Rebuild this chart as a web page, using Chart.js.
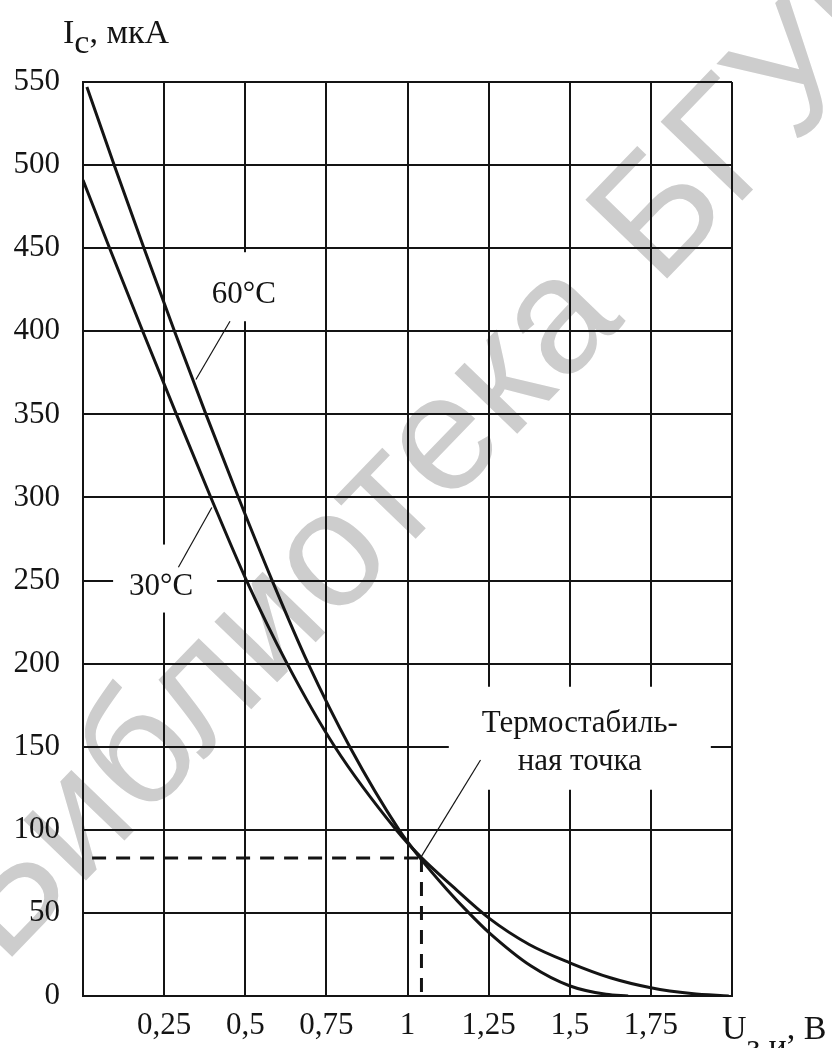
<!DOCTYPE html>
<html>
<head>
<meta charset="utf-8">
<script src="https://cdn.jsdelivr.net/npm/chart.js@4.4.0/dist/chart.umd.min.js"></script>
<style>
  html, body { margin: 0; padding: 0; background: #fff; }
  #wrap { width: 832px; height: 1048px; position: relative; }
</style>
</head>
<body>
<div id="wrap"><canvas id="chart"></canvas></div>
<script>
// U_зи, V  ->  I_c, uA
const u60 = [0.012, 0.096, 0.188, 0.282, 0.379, 0.479, 0.583, 0.694, 0.822, 0.974, 1.039, 1.122, 1.189, 1.252, 1.381, 1.501, 1.612, 1.68];
const i60 = [547, 500, 450, 400, 350, 300, 250, 200, 150, 100, 83, 64, 50, 38, 18, 6, 1, 0];

const u30 = [0, 0.082, 0.184, 0.288, 0.394, 0.504, 0.629, 0.776, 0.965, 1.039, 1.133, 1.25, 1.375, 1.5, 1.625, 1.75, 1.875, 1.99];
const i30 = [491, 450, 400, 350, 300, 250, 200, 150, 100, 84, 67, 47, 31, 20, 11, 5, 1.5, 0];

// thermostable point and where the dashed guide starts on the left
const stablePoint = [1.043, 83];
const guideStartU = 0.028;

// leader lines from the labels to the curves
const leader60 = [[0.453, 406], [0.348, 371]];
const leader30 = [[0.397, 294], [0.294, 258]];
const leaderStable = [[1.225, 142], [1.043, 84]];

const xTickLabels = ['', '0,25', '0,5', '0,75', '1', '1,25', '1,5', '1,75', ''];
const yTickLabels = ['0', '50', '100', '150', '200', '250', '300', '350', '400', '450', '500', '550'];

const INK = '#141414';
const SERIF = '"Liberation Serif", "Times New Roman", serif';

function toPoints(us, is) {
    return us.map((u, k) => ({ x: u, y: is[k] }));
}

function pairPoints(pairs) {
    return pairs.map(p => ({ x: p[0], y: p[1] }));
}

// labels in white boxes: centre in data units, box size in px
const notes = [
    { u: 0.511, i: 426.8, w: 105, h: 69, dx: -5, lines: ['60°C'], base: 16 },
    { u: 0.253, i: 251.2, w: 104, h: 68, dx: -4, lines: ['30°C'], base: 16 },
    { u: 1.531, i: 155.1, w: 262, h: 103, dx: 0, lines: ['Термостабиль-', 'ная точка'], base: -6 }
];

function drawSubText(ctx, x, y, parts) {
    parts.forEach(p => {
        ctx.fillText(p[0], x, y + p[1]);
        x += ctx.measureText(p[0]).width;
    });
}

const paperPlugin = {
    id: 'paper',
    beforeDraw(chart) {
        const ctx = chart.ctx;
        ctx.save();
        ctx.fillStyle = '#fff';
        ctx.fillRect(0, 0, chart.width, chart.height);
        // library watermark
        ctx.translate(-30, 935);
        ctx.rotate(-46 * Math.PI / 180);
        ctx.font = '165px "Liberation Sans", Arial, sans-serif';
        ctx.fillStyle = '#cdcdcd';
        ctx.textAlign = 'left';
        ctx.textBaseline = 'middle';
        ctx.fillText('Библиотека БГУИР', 0, 0);
        ctx.restore();
    }
};

const notesPlugin = {
    id: 'notes',
    beforeDatasetsDraw(chart) {
        const ctx = chart.ctx;
        const xs = chart.scales.x, ys = chart.scales.y;
        ctx.save();
        notes.forEach(n => {
            const cx = xs.getPixelForValue(n.u);
            const cy = ys.getPixelForValue(n.i);
            ctx.fillStyle = '#fff';
            ctx.fillRect(cx - n.w / 2, cy - n.h / 2, n.w, n.h);
            ctx.fillStyle = INK;
            ctx.font = '31px ' + SERIF;
            ctx.textAlign = 'center';
            ctx.textBaseline = 'alphabetic';
            n.lines.forEach((t, k) => {
                ctx.fillText(t, cx + n.dx, cy + n.base + k * 38);
            });
        });
        ctx.restore();
    },
    afterDraw(chart) {
        const ctx = chart.ctx;
        ctx.save();
        ctx.fillStyle = INK;
        ctx.font = '34px ' + SERIF;
        ctx.textAlign = 'left';
        ctx.textBaseline = 'alphabetic';
        drawSubText(ctx, 63, 43, [['I', 0], ['c', 10], [', мкА', 0]]);
        drawSubText(ctx, 722, 1039, [['U', 0], ['з.и', 18], [', В', 0]]);
        ctx.restore();
    }
};

const curveStyle = {
    borderColor: INK,
    borderWidth: 3,
    pointRadius: 0,
    showLine: true,
    fill: false,
    cubicInterpolationMode: 'monotone'
};

const thinStyle = {
    borderColor: INK,
    borderWidth: 1.2,
    pointRadius: 0,
    showLine: true,
    fill: false
};

const dashStyle = {
    borderColor: INK,
    borderWidth: 3,
    borderDash: [14, 10],
    pointRadius: 0,
    showLine: true,
    fill: false
};

new Chart(document.getElementById('chart'), {
    type: 'scatter',
    data: {
        datasets: [
            Object.assign({ label: '60°C', data: toPoints(u60, i60) }, curveStyle),
            Object.assign({ label: '30°C', data: toPoints(u30, i30) }, curveStyle),
            Object.assign({ label: 'guide-h', data: pairPoints([[guideStartU, stablePoint[1]], stablePoint]) }, dashStyle),
            Object.assign({ label: 'guide-v', data: pairPoints([stablePoint, [stablePoint[0], 0]]) }, dashStyle),
            Object.assign({ label: 'l60', data: pairPoints(leader60) }, thinStyle),
            Object.assign({ label: 'l30', data: pairPoints(leader30) }, thinStyle),
            Object.assign({ label: 'lst', data: pairPoints(leaderStable) }, thinStyle)
        ]
    },
    options: {
        responsive: true,
        maintainAspectRatio: false,
        animation: false,
        devicePixelRatio: 1,
        layout: { padding: { top: 82, right: 100, left: 0, bottom: 0 } },
        plugins: {
            legend: { display: false },
            tooltip: { enabled: false }
        },
        scales: {
            x: {
                type: 'linear',
                min: 0,
                max: 2,
                afterFit: scale => { scale.height = 52; },
                grid: { color: INK, lineWidth: 2, drawTicks: false },
                border: { display: true, color: INK, width: 2 },
                ticks: {
                    stepSize: 0.25,
                    autoSkip: false,
                    maxRotation: 0,
                    padding: 11,
                    color: INK,
                    font: { family: SERIF, size: 31 },
                    callback: (v, idx) => xTickLabels[idx]
                }
            },
            y: {
                min: 0,
                max: 550,
                afterFit: scale => { scale.width = 83; },
                grid: { color: INK, lineWidth: 2, drawTicks: false },
                border: { display: true, color: INK, width: 2 },
                ticks: {
                    stepSize: 50,
                    padding: 23,
                    color: INK,
                    font: { family: SERIF, size: 31 },
                    callback: (v, idx) => yTickLabels[idx]
                }
            }
        }
    },
    plugins: [paperPlugin, notesPlugin]
});
</script>
</body>
</html>
